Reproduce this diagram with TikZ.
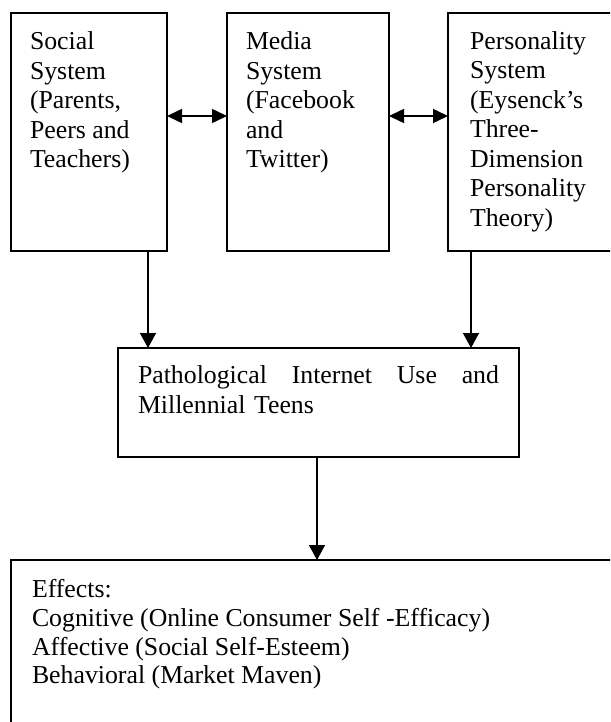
\documentclass[tikz,border=0pt]{standalone}
\usepackage{fontspec}
\setmainfont{Liberation Serif}[Ligatures=NoCommon]
\usetikzlibrary{arrows.meta}
\begin{document}
\begin{tikzpicture}[x=1pt,y=-1pt,
  box/.style={draw, line width=1.8pt, inner sep=0pt, outer sep=0pt, anchor=north west},
  txt/.style={anchor=north west, inner sep=0pt, outer sep=0pt, align=left, font=\fontsize{25.8}{29.5}\selectfont},
  arr/.style={line width=1.5pt, -{Triangle[length=15pt,width=16pt]}},
  darr/.style={line width=1.5pt, {Triangle[length=15pt,width=14pt]}-{Triangle[length=15pt,width=14pt]}}]
\useasboundingbox (0,0) rectangle (610,722);
\clip (0,0) rectangle (610,722);
% boxes
\node[box, minimum width=156pt, minimum height=238pt] (soc) at (11,13) {};
\node[box, minimum width=162pt, minimum height=238pt] (med) at (227,13) {};
\node[box, minimum width=230pt, minimum height=238pt] (per) at (448,13) {};
\node[box, minimum width=401pt, minimum height=109pt] (mid) at (118,348) {};
\node[box, minimum width=640pt, minimum height=200pt] (eff) at (11,560) {};
% texts
\node[txt] (soct) at ([xshift=19pt,yshift=-19pt]soc.north west) {Social\\System\\(Parents,\\Peers and\\Teachers)};
\node[txt] (medt) at ([xshift=19pt,yshift=-19pt]med.north west) {Media\\System\\(Facebook\\and\\Twitter)};
\node[txt] (pert) at ([xshift=22pt,yshift=-18.5pt]per.north west) {Personality\\System\\(Eysenck’s\\Three-\\Dimension\\Personality\\Theory)};
\node[txt, text width=361pt] (midt) at ([xshift=20pt,yshift=-18pt]mid.north west) {Pathological\hfill Internet\hfill Use\hfill and\\Millennial Teens};
\node[txt, font=\fontsize{25.8}{28.7}\selectfont] (efft) at ([xshift=21pt,yshift=-19.5pt]eff.north west) {Effects:\\Cognitive (Online Consumer Self -Efficacy)\\Affective (Social Self-Esteem)\\Behavioral (Market Maven)};
% connectors
\draw[darr] ([yshift=16pt]soc.east) -- ([yshift=16pt]med.west);
\draw[darr] ([yshift=16pt]med.east) -- ([yshift=16pt]per.west);
\draw[arr] ([xshift=137pt]soc.south west) coordinate (s1) -- (s1 |- mid.north);
\draw[arr] ([xshift=23pt]per.south west) coordinate (s3) -- (s3 |- mid.north);
\draw[arr] ([xshift=-1.5pt]mid.south) coordinate (s2) -- (s2 |- eff.north);
\end{tikzpicture}
\end{document}
